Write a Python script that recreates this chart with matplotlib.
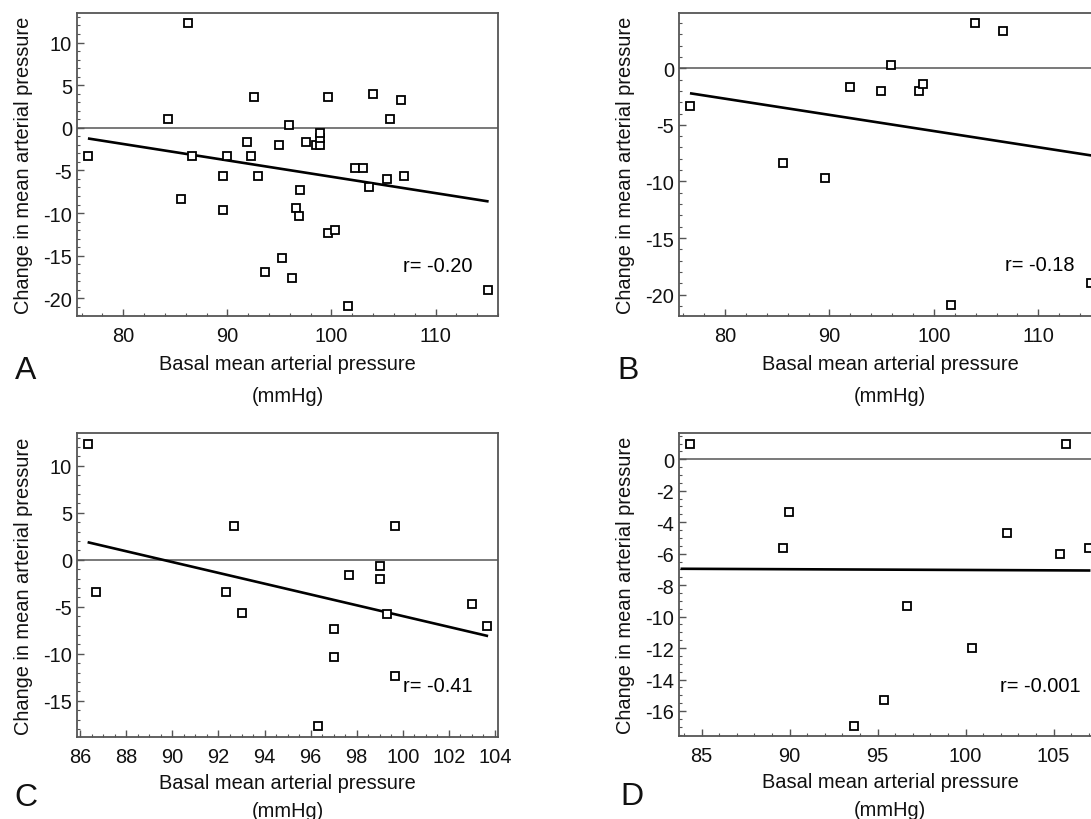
import matplotlib
matplotlib.use("Agg")
import matplotlib.pyplot as plt
from matplotlib.ticker import MultipleLocator

plt.rcParams['font.family'] = ['Liberation Sans', 'DejaVu Sans']
plt.rcParams['axes.unicode_minus'] = False

# ---------------- data ----------------
a_x = [76.6, 86.25, 84.27, 86.6, 85.58, 90.0, 89.6, 89.6, 91.9, 92.3, 92.6, 92.9, 93.6, 94.95,
       95.29, 95.96, 96.25, 96.6, 96.9, 96.96, 97.6, 98.5, 98.9, 98.9, 98.9, 99.65, 99.65,
       100.3, 101.6, 102.3, 103.0, 103.65, 104.0, 105.3, 105.65, 106.7, 107.0, 115.0]
a_y = [-3.36, 12.25, 0.98, -3.36, -8.33, -3.36, -5.67, -9.66, -1.68, -3.36, 3.6, -5.67, -16.94, -2.0,
       -15.29, 0.32, -17.6, -9.35, -10.3, -7.31, -1.68, -2.0, -2.0, -1.25, -0.66, 3.64, -12.28,
       -11.97, -20.93, -4.69, -4.69, -7.0, 3.96, -6.02, 0.98, 3.29, -5.67, -18.97]
a_fit_x = [76.6, 115.1]
a_fit_y = [-1.25, -8.64]
a_r = "r= -0.20"

b_x = [76.65, 85.6, 89.6, 91.95, 94.94, 95.93, 98.6, 98.96, 101.6, 103.95, 106.6, 115.0]
b_y = [-3.36, -8.33, -9.68, -1.68, -2.0, 0.32, -2.0, -1.39, -20.95, 3.97, 3.32, -18.98]
b_fit_x = [76.65, 115.1]
b_fit_y = [-2.21, -7.71]
b_r = "r= -0.18"

c_x = [86.33, 86.68, 92.33, 92.68, 93.0, 96.33, 97.01, 97.01, 97.66, 99.0, 99.0, 99.32,
       99.65, 99.65, 102.99, 103.66]
c_y = [12.33, -3.37, -3.37, 3.65, -5.7, -17.71, -7.37, -10.38, -1.66, -0.67, -2.02, -5.74,
       3.65, -12.36, -4.71, -7.05]
c_fit_x = [86.32, 103.7]
c_fit_y = [1.88, -8.11]
c_r = "r= -0.41"

d_x = [84.32, 89.98, 89.64, 93.66, 95.34, 96.68, 100.36, 102.37, 105.36, 105.7, 107.0]
d_y = [0.97, -3.37, -5.67, -16.97, -15.32, -9.33, -12.0, -4.68, -6.01, 0.97, -5.67]
d_fit_x = [83.8, 107.1]
d_fit_y = [-6.96, -7.07]
d_r = "r= -0.001"

xlabel = "Basal mean arterial pressure\n(mmHg)"
ylabel = "Change in mean arterial pressure"

W, H = 1091, 820
fig = plt.figure(figsize=(W / 100, H / 100), dpi=100)


def px_axes(left, top, right, bottom):
    return fig.add_axes([left / W, 1 - bottom / H, (right - left) / W, (bottom - top) / H])


panels = [
    dict(box=(77, 14, 498, 317), x=a_x, y=a_y, fx=a_fit_x, fy=a_fit_y, r=a_r, rpos=(106.9, -16.2),
         xlim=(75.55, 116.0), ylim=(-22.07, 13.46), xmaj=10, xmin=2, ymaj=5, ymin=1,
         letter="A", lpos=(26, 371), ls=1.9, lp=6.5),
    dict(box=(679, 14, 1101, 317), x=b_x, y=b_y, fx=b_fit_x, fy=b_fit_y, r=b_r, rpos=(106.85, -17.36),
         xlim=(75.6, 116.0), ylim=(-21.89, 4.88), xmaj=10, xmin=2, ymaj=5, ymin=1,
         letter="B", lpos=(628, 371), ls=1.9, lp=6.5),
    dict(box=(77, 434, 498, 738), x=c_x, y=c_y, fx=c_fit_x, fy=c_fit_y, r=c_r, rpos=(100.0, -13.35),
         xlim=(85.86, 104.13), ylim=(-18.85, 13.5), xmaj=2, xmin=0.5, ymaj=5, ymin=1,
         letter="C", lpos=(26, 798), ls=1.6, lp=5.5),
    dict(box=(679, 434, 1101, 737), x=d_x, y=d_y, fx=d_fit_x, fy=d_fit_y, r=d_r, rpos=(101.95, -14.37),
         xlim=(83.71, 107.7), ylim=(-17.59, 1.67), xmaj=5, xmin=1, ymaj=2, ymin=0.5,
         letter="D", lpos=(632, 797), ls=1.6, lp=5.5),
]

FS = 14.4
spine_col = "#555555"
for p in panels:
    ax = px_axes(*p["box"])
    ax.set_xlim(*p["xlim"])
    ax.set_ylim(*p["ylim"])
    ax.axhline(0, color="#555555", lw=1.1, zorder=1)
    ax.plot(p["fx"], p["fy"], color="black", lw=1.9, zorder=2, solid_capstyle="butt")
    ax.plot(p["x"], p["y"], ls="none", marker="s", ms=5.2, mfc="white", mec="black",
            mew=1.3, zorder=3, clip_on=False)
    ax.text(p["rpos"][0], p["rpos"][1], p["r"], fontsize=FS, ha="left", va="center")
    ax.xaxis.set_major_locator(MultipleLocator(p["xmaj"]))
    ax.xaxis.set_minor_locator(MultipleLocator(p["xmin"]))
    ax.yaxis.set_major_locator(MultipleLocator(p["ymaj"]))
    ax.yaxis.set_minor_locator(MultipleLocator(p["ymin"]))
    ax.tick_params(which="both", direction="in", top=False, right=False, colors=spine_col,
                   labelcolor="#111111", labelsize=FS)
    ax.tick_params(which="major", length=5, width=1.0)
    ax.tick_params(which="minor", length=2.5, width=0.8)
    ax.tick_params(axis="x", pad=7)
    ax.tick_params(axis="y", pad=3.5)
    for s in ax.spines.values():
        s.set_color(spine_col)
        s.set_linewidth(1.3)
    ax.set_ylabel(ylabel, fontsize=FS, color="#111111")
    ax.yaxis.set_label_coords(-44 / (p["box"][2] - p["box"][0]), 0.5)
    ax.set_xlabel(xlabel, fontsize=FS, color="#111111", linespacing=p["ls"], labelpad=p["lp"])
    fig.text(p["lpos"][0] / W, 1 - p["lpos"][1] / H, p["letter"], fontsize=23,
             ha="center", va="center", color="#111111")

fig.savefig("out.png", dpi=100)
